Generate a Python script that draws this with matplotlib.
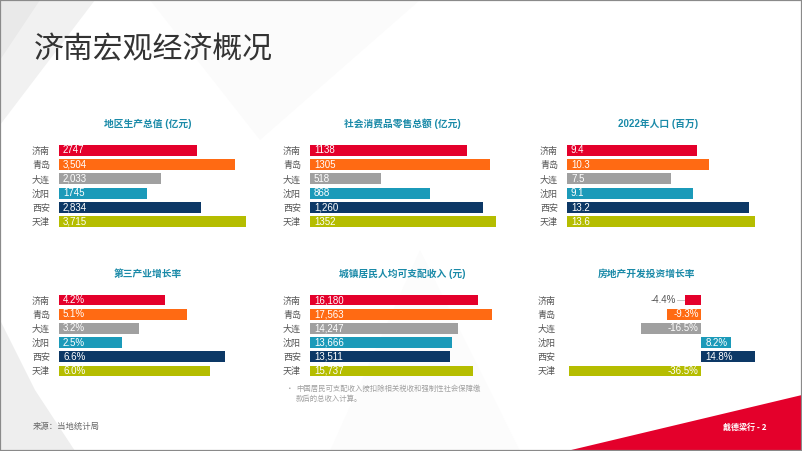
import matplotlib.pyplot as plt
from matplotlib.patches import Polygon, Rectangle

W, H = 802, 451

cities = ['济南', '青岛', '大连', '沈阳', '西安', '天津']
city_colors = ['#e4002b', '#ff6a13', '#a0a0a0', '#1b9ab9', '#0c3866', '#b5bd00']

gdp = [2747, 3504, 2033, 1745, 2834, 3715]
gdp_labels = ['2747', '3,504', '2,033', '1745', '2,834', '3,715']
retail = [1138, 1305, 518, 868, 1260, 1352]
retail_labels = ['1138', '1305', '518', '868', '1,260', '1352']
population = [9.4, 10.3, 7.5, 9.1, 13.2, 13.6]
tertiary_growth = [4.2, 5.1, 3.2, 2.5, 6.6, 6.0]
income = [16180, 17563, 14247, 13666, 13511, 15737]
property_growth = [-4.4, -9.3, -16.5, 8.2, 14.8, -36.5]

CJK = ['Noto Sans CJK SC', 'DejaVu Sans']
LAT = ['Liberation Sans', 'Noto Sans CJK SC']
TEAL = '#1a8aa8'


def fx(x):
    return x / W


def fy(y):
    return 1 - y / H


def box(x0, x1, y0, y1):
    return [x0 / W, 1 - y1 / H, (x1 - x0) / W, (y1 - y0) / H]


fig = plt.figure(figsize=(8.02, 4.51), dpi=100)
fig.patch.set_facecolor('white')

# faint background shapes
for pts, c in [
    ([(0, 0), (95, 0), (0, 125)], '#f1f1f1'),
    ([(0, 0), (40, 0), (0, 60)], '#e9e9e9'),
    ([(0, 320), (0, 451), (75, 451), (35, 390)], '#eeeeee'),
    ([(150, 0), (420, 0), (260, 140)], '#fbfbfb'),
    ([(330, 451), (420, 250), (520, 451)], '#fcfcfc'),
]:
    fig.patches.append(Polygon([(fx(x), fy(y)) for x, y in pts], closed=True,
                               facecolor=c, edgecolor='none',
                               transform=fig.transFigure, zorder=-5))

fig.text(fx(34), fy(50), '济南宏观经济概况', family=CJK, fontsize=21.5,
         color='#333333', va='center', ha='left')


def hbar_panel(title, values, labels, tx, ty, ax_box, xlim):
    ax = fig.add_axes(box(*ax_box))
    ax.barh(range(len(values)), values, height=0.76, color=city_colors)
    ax.set_xlim(*xlim)
    ax.set_ylim(len(values) - 0.5, -0.5)
    ax.set_yticks(range(len(values)))
    ax.set_yticklabels(cities, family=CJK, fontsize=6.5, color='#555555')
    ax.tick_params(axis='y', length=0, pad=6.5)
    ax.set_xticks([])
    for s in ax.spines.values():
        s.set_visible(False)
    ax.patch.set_alpha(0)
    off = (xlim[1] - xlim[0]) * 0.021
    for i, lab in enumerate(labels):
        ax.text(off, i, lab, family=LAT, fontsize=7, color='white',
                va='center', ha='left')
    fig.text(fx(tx), fy(ty), title, family=LAT, fontsize=7, color=TEAL,
             fontweight='bold', ha='center', va='center')
    return ax


top = (143, 229)
bot = (293, 378)

hbar_panel('地区生产总值 (亿元)', gdp, gdp_labels, 148, 124, (59, 250) + top, (0, 3800))
hbar_panel('社会消费品零售总额 (亿元)', retail, retail_labels, 402, 124, (310, 500) + top, (0, 1380))
hbar_panel('2022年人口 (百万)', population, [f'{v:.1f}' for v in population],
           658, 124, (567, 757) + top, (0, 13.75))
hbar_panel('第三产业增长率', tertiary_growth, [f'{v:.1f}%' for v in tertiary_growth],
           148, 274, (59, 250) + bot, (0, 7.6))
hbar_panel('城镇居民人均可支配收入 (元)', income, [f'{v:,}' for v in income],
           402, 274, (310, 500) + bot, (0, 18350))

# property investment growth, diverging bars
ax = fig.add_axes(box(567, 760, *bot))
ax.barh(range(6), property_growth, height=0.76, color=city_colors)
ax.set_xlim(-37.0, 16.3)
ax.set_ylim(5.5, -0.5)
ax.set_yticks(range(6))
ax.set_yticklabels(cities, family=CJK, fontsize=6.5, color='#555555')
ax.tick_params(axis='y', length=0, pad=8)
ax.set_xticks([])
for s in ax.spines.values():
    s.set_visible(False)
ax.patch.set_alpha(0)
for i, v in enumerate(property_growth):
    lab = f'{v:.1f}%'
    if v > 0:
        ax.text(1.2, i, lab, family=LAT, fontsize=7, color='white', va='center', ha='left')
    elif v < -5:
        ax.text(-0.6, i, lab, family=LAT, fontsize=7, color='white', va='center', ha='right')
    else:
        ax.text(v - 2.5, i, lab, family=LAT, fontsize=7, color='#555555', va='center', ha='right')
        ax.plot([v - 2.2, v - 0.3], [i, i], color='#bbbbbb', lw=0.6)
fig.text(fx(647), fy(274), '房地产开发投资增长率', family=CJK, fontsize=7, color=TEAL,
         fontweight='bold', ha='center', va='center')

# footnote
fig.text(fx(286), fy(389), '•', family=CJK, fontsize=5.5, color='#a0a0a0', va='center')
fig.text(fx(296), fy(394), '中国居民可支配收入按扣除相关税收和强制性社会保障缴\n款后的总收入计算。',
         family=CJK, fontsize=5.3, color='#a0a0a0', va='center', linespacing=1.35)

fig.text(fx(33), fy(426), '来源：当地统计局', family=CJK, fontsize=6, color='#666666', va='center')

# red corner
fig.patches.append(Polygon([(fx(567), fy(451)), (fx(802), fy(395)), (fx(802), fy(451))],
                           closed=True, facecolor='#e4002b', edgecolor='none',
                           transform=fig.transFigure, zorder=1))
fig.text(fx(745), fy(427), '戴德梁行 - 2', family=CJK, fontsize=5.8, color='white',
         fontweight='bold', ha='center', va='center', zorder=2)

fig.patches.append(Rectangle((0, 0), 1, 1, fill=False, edgecolor='#8a8a8a', lw=1.6,
                             transform=fig.transFigure, zorder=3))

fig.savefig('out.png', dpi=100)
